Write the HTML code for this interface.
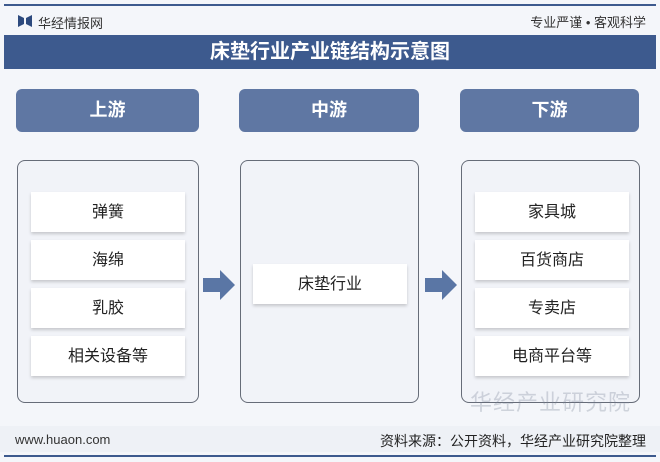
<!DOCTYPE html>
<html><head><meta charset="utf-8"><style>
body{margin:0;width:660px;height:462px;background:#f4f6fa;position:relative;overflow:hidden;font-family:"Liberation Sans","Noto Sans CJK SC",sans-serif;}
.a{position:absolute;box-sizing:border-box;}
.stage{background:#5f77a3;color:#fff;border-radius:6px;font-size:18px;font-weight:bold;text-align:center;line-height:43px;height:43px;top:89px;}
.panel{border:1.5px solid #666c78;border-radius:8px;background:#f1f3f8;top:160px;height:243px;}
.item{background:#fff;box-shadow:0 2px 3px rgba(0,0,0,0.18);font-size:16px;color:#222;text-align:center;height:40px;line-height:42px;width:154px;}
</style></head><body>
<div class="a" style="left:4px;top:4px;width:652px;height:2px;background:#3d5a8e"></div>
<svg class="a" style="left:18px;top:14px" width="14" height="14"><polygon points="0,1 6,4 6,10 0,13" fill="#2d4a7e"/><polygon points="14,1 8,4 8,10 14,13" fill="#2d4a7e"/></svg>
<div class="a" style="left:38px;top:13px;font-size:13px;color:#333">华经情报网</div>
<div class="a" style="right:14px;top:12px;font-size:13px;color:#333">专业严谨 • 客观科学</div>
<div class="a" style="left:4px;top:35px;width:652px;height:34px;background:#3d5a8e;color:#fff;font-size:20px;font-weight:bold;text-align:center;line-height:34px">床垫行业产业链结构示意图</div>
<div class="a stage" style="left:16px;width:183px">上游</div>
<div class="a stage" style="left:239px;width:180px">中游</div>
<div class="a stage" style="left:460px;width:179px">下游</div>
<div class="a panel" style="left:17px;width:182px"></div>
<div class="a panel" style="left:240px;width:179px"></div>
<div class="a panel" style="left:461px;width:179px"></div>
<div class="a item" style="left:31px;top:192px">弹簧</div>
<div class="a item" style="left:31px;top:240px">海绵</div>
<div class="a item" style="left:31px;top:288px">乳胶</div>
<div class="a item" style="left:31px;top:336px">相关设备等</div>
<div class="a item" style="left:253px;top:264px">床垫行业</div>
<div class="a item" style="left:475px;top:192px">家具城</div>
<div class="a item" style="left:475px;top:240px">百货商店</div>
<div class="a item" style="left:475px;top:288px">专卖店</div>
<div class="a item" style="left:475px;top:336px">电商平台等</div>
<svg class="a" style="left:200px;top:268px" width="40" height="34"><polygon points="3,10 20,10 20,2 35,17 20,32 20,24 3,24" fill="#5a76a5"/></svg>
<svg class="a" style="left:422px;top:268px" width="40" height="34"><polygon points="3,10 20,10 20,2 35,17 20,32 20,24 3,24" fill="#5a76a5"/></svg>
<div class="a" style="left:470px;top:385px;font-size:22px;color:rgba(120,130,150,0.3);letter-spacing:1px">华经产业研究院</div>
<div class="a" style="left:0;top:426px;width:660px;height:26px;background:#eef1f6"></div>
<div class="a" style="left:15px;top:432px;font-size:13px;color:#333">www.huaon.com</div>
<div class="a" style="right:14px;top:431px;font-size:14px;color:#222">资料来源：公开资料，华经产业研究院整理</div>
<div class="a" style="left:4px;top:455px;width:652px;height:2px;background:#3d5a8e"></div>
</body></html>
